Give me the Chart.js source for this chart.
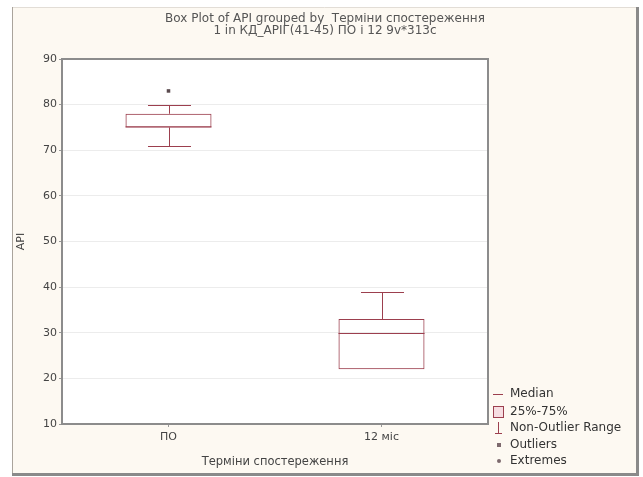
<!DOCTYPE html>
<html>
<head>
<meta charset="utf-8">
<script src="https://cdn.jsdelivr.net/npm/chart.js@4"></script>
<style>
  html, body { margin: 0; padding: 0; background: #fff; }
  #wrap { width: 643px; height: 477px; }
</style>
</head>
<body>
<div id="wrap"><canvas id="boxChart" width="643" height="477"></canvas></div>
<script>
// values
const categories = ['ПО', '12 міс'];
const whiskerLow = [71, 22];
const q1 = [75, 22];
const medians = [75, 30];
const q3 = [78, 33];
const whiskerHigh = [80, 39];
const outliers = [83, null];
const yTicks = [10, 20, 30, 40, 50, 60, 70, 80, 90];
const titleLines = ['Box Plot of API grouped by  Терміни спостереження', '1 in КД_АРІГ(41-45) ПО і 12 9v*313c'];

const boxColor = '#9c3f4e';
const fontName = "'DejaVu Sans', Verdana, sans-serif";

// frame, plot background, whiskers, medians, title, legend
const boxPlotExtras = {
    id: 'boxPlotExtras',
    beforeDraw(chart) {
        const c = chart.ctx;
        const a = chart.chartArea;
        c.save();
        c.fillStyle = '#ffffff';
        c.fillRect(0, 0, chart.width, chart.height);
        c.fillStyle = '#fdf9f2';
        c.fillRect(12, 7, 625, 467);
        c.strokeStyle = '#e2ddd6';
        c.lineWidth = 1;
        c.beginPath();
        c.moveTo(12, 7.5); c.lineTo(637, 7.5);
        c.stroke();
        c.strokeStyle = '#aaa49c';
        c.beginPath();
        c.moveTo(12.5, 7); c.lineTo(12.5, 474);
        c.stroke();
        c.strokeStyle = '#8a8a8a';
        c.lineWidth = 3;
        c.beginPath();
        c.moveTo(637.5, 7); c.lineTo(637.5, 475);
        c.moveTo(12, 474.5); c.lineTo(639, 474.5);
        c.stroke();
        c.fillStyle = '#ffffff';
        c.fillRect(a.left, a.top, a.right - a.left, a.bottom - a.top);
        c.restore();
    },
    afterDatasetsDraw(chart) {
        const c = chart.ctx;
        const x = chart.scales.x;
        const y = chart.scales.y;
        const meta = chart.getDatasetMeta(0);
        c.save();
        c.strokeStyle = boxColor;
        c.lineWidth = 1;
        categories.forEach((cat, i) => {
            const cx = Math.round(x.getPixelForValue(i)) + 0.5;
            const bar = meta.data[i];
            const half = bar.width / 2;
            const capHalf = half * 0.5;
            const yHi = Math.round(y.getPixelForValue(whiskerHigh[i])) + 0.5;
            const yLo = Math.round(y.getPixelForValue(whiskerLow[i])) + 0.5;
            const yQ3 = y.getPixelForValue(q3[i]);
            const yQ1 = y.getPixelForValue(q1[i]);
            let yMed = Math.round(y.getPixelForValue(medians[i])) + 0.5;
            // sit on the box edge when the median equals a quartile
            if (medians[i] === q1[i]) yMed = yQ1 - 0.5;
            if (medians[i] === q3[i]) yMed = yQ3 + 0.5;
            c.beginPath();
            // upper whisker
            c.moveTo(cx, yHi); c.lineTo(cx, yQ3);
            c.moveTo(cx - capHalf, yHi); c.lineTo(cx + capHalf, yHi);
            // lower whisker
            if (whiskerLow[i] < q1[i]) {
                c.moveTo(cx, yQ1); c.lineTo(cx, yLo);
                c.moveTo(cx - capHalf, yLo); c.lineTo(cx + capHalf, yLo);
            }
            // median
            c.moveTo(bar.x - half, yMed); c.lineTo(bar.x + half, yMed);
            c.stroke();
        });
        c.restore();
    },
    afterDraw(chart) {
        const c = chart.ctx;
        const a = chart.chartArea;
        c.save();
        // plot border
        c.strokeStyle = '#8c8c8c';
        c.lineWidth = 2;
        c.strokeRect(a.left, a.top, a.right - a.left, a.bottom - a.top);

        // title
        c.font = '12px ' + fontName;
        c.fillStyle = '#555';
        c.textAlign = 'center';
        c.textBaseline = 'middle';
        c.fillText(titleLines[0], 325, 19);
        c.fillText(titleLines[1], 325, 31);

        // legend
        const lx = 495, tx = 510;
        const rows = [394, 412, 428, 445, 461];
        const labels = ['Median', '25%-75%', 'Non-Outlier Range', 'Outliers', 'Extremes'];
        c.font = '12px ' + fontName;
        c.fillStyle = '#333';
        c.textAlign = 'left';
        labels.forEach((t, i) => c.fillText(t, tx, rows[i]));

        c.strokeStyle = boxColor;
        c.lineWidth = 1;
        c.beginPath();
        c.moveTo(lx - 2, rows[0] + 0.5); c.lineTo(lx + 8, rows[0] + 0.5);
        c.stroke();
        c.fillStyle = '#f6dde1';
        c.fillRect(lx - 1.5, rows[1] - 5.5, 10, 11);
        c.strokeRect(lx - 1.5, rows[1] - 5.5, 10, 11);
        c.beginPath();
        c.moveTo(lx + 3.5, rows[2] - 6); c.lineTo(lx + 3.5, rows[2] + 5);
        c.moveTo(lx, rows[2] + 5.5); c.lineTo(lx + 7, rows[2] + 5.5);
        c.stroke();
        c.fillStyle = '#7d6a6e';
        c.fillRect(lx + 2, rows[3] - 2, 4, 4);
        c.beginPath();
        c.arc(lx + 4, rows[4], 2, 0, Math.PI * 2);
        c.fill();
        c.restore();
    }
};

const ctx = document.getElementById('boxChart').getContext('2d');
const chart = new Chart(ctx, {
    type: 'bar',
    data: {
        labels: categories,
        datasets: [
            {
                label: '25%-75%',
                data: q1.map((v, i) => [v, q3[i]]),
                backgroundColor: 'rgba(0,0,0,0)',
                borderColor: boxColor,
                borderWidth: 1,
                borderSkipped: false,
                categoryPercentage: 1,
                barPercentage: 0.404
            },
            {
                type: 'line',
                label: 'Outliers',
                data: outliers,
                showLine: false,
                pointStyle: 'rect',
                pointRadius: 2.5,
                pointBackgroundColor: '#5a4a4e',
                pointBorderColor: '#5a4a4e',
                pointBorderWidth: 0
            }
        ]
    },
    options: {
        responsive: false,
        animation: false,
        events: [],
        layout: { padding: { left: 12, right: 155, top: 59, bottom: 4 } },
        plugins: {
            legend: { display: false },
            tooltip: { enabled: false },
            title: { display: false }
        },
        scales: {
            x: {
                offset: true,
                grid: { offset: false, drawOnChartArea: false, tickLength: 3, tickColor: '#999' },
                border: { display: false },
                ticks: { color: '#444', padding: 4, font: { family: fontName, size: 11 } },
                title: {
                    display: true,
                    text: 'Терміни спостереження',
                    color: '#444',
                    font: { family: fontName, size: 11.5 },
                    padding: { top: 0, bottom: 4 }
                },
                afterFit(scale) { scale.height = 49; }
            },
            y: {
                min: 10,
                max: 90,
                afterBuildTicks(scale) { scale.ticks = yTicks.map(v => ({ value: v })); },
                grid: { color: '#ececec', tickLength: 3, tickColor: '#999' },
                border: { display: false },
                ticks: { color: '#444', padding: 2, font: { family: fontName, size: 11 } },
                title: {
                    display: true,
                    text: 'API',
                    color: '#444',
                    font: { family: fontName, size: 11 },
                    padding: { top: 3, bottom: 0 }
                },
                afterFit(scale) { scale.width = 50; }
            }
        }
    },
    plugins: [boxPlotExtras]
});
</script>
</body>
</html>
